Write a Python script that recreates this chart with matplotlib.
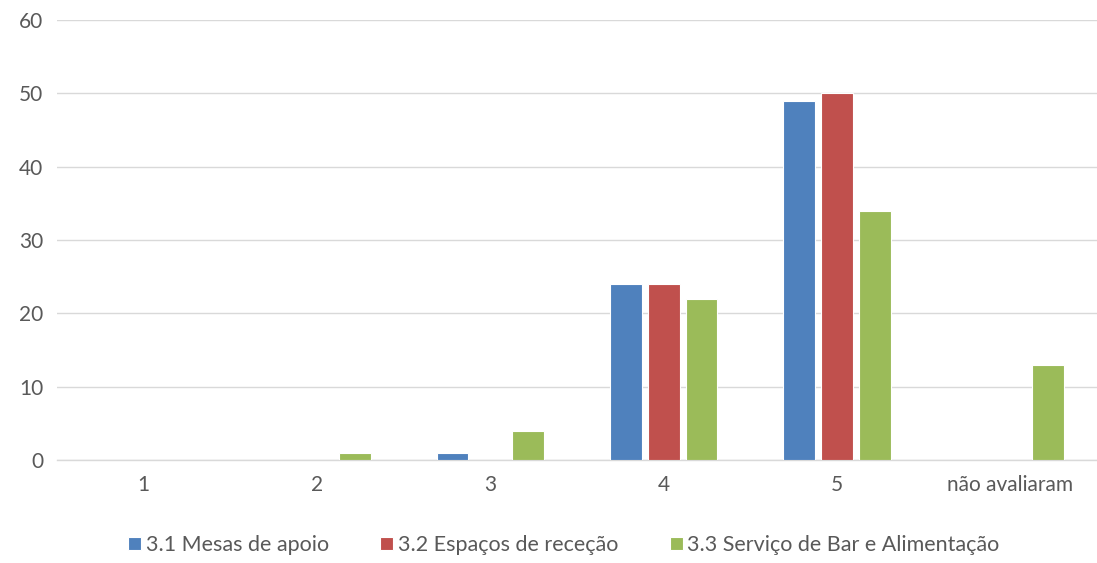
import matplotlib
matplotlib.use("Agg")
import matplotlib.pyplot as plt
import numpy as np

categories = ["1", "2", "3", "4", "5", "não avaliaram"]
series_names = ["3.1 Mesas de apoio", "3.2 Espaços de receção", "3.3 Serviço de Bar e Alimentação"]
mesas = [0, 0, 1, 24, 49, 0]
espacos = [0, 0, 0, 24, 50, 0]
servico = [0, 1, 4, 22, 34, 13]
colors = ["#4F81BD", "#C0504D", "#9BBB59"]
yticks = [0, 10, 20, 30, 40, 50, 60]

plt.rcParams['font.family'] = ['Lato', 'DejaVu Sans']

fig = plt.figure(figsize=(10.97, 5.63), dpi=100)
ax = fig.add_axes([57/1097, 1 - 460/563, 1 - 57/1097, 440/563])

x = np.arange(len(categories))
width = 0.183
offset = 0.219
for i, (vals, name, c) in enumerate(zip([mesas, espacos, servico], series_names, colors)):
    ax.bar(x + (i - 1) * offset, vals, width, color=c, label=name,
           edgecolor="white", linewidth=0.8, zorder=3)

ax.set_xlim(-0.5, len(categories) - 0.5)
ax.set_ylim(0, 60)
ax.set_yticks(yticks)
ax.set_xticks(x)
ax.set_xticklabels(categories)
ax.grid(axis="y", color="#D9D9D9", linewidth=1, zorder=0)
for s in ["top", "right", "left"]:
    ax.spines[s].set_visible(False)
ax.spines["bottom"].set_color("#D9D9D9")
ax.spines["bottom"].set_linewidth(1)
ax.tick_params(axis="both", length=0, labelsize=15, colors="#595959")
ax.tick_params(axis="x", pad=11)
ax.tick_params(axis="y", pad=10)

leg = fig.legend(loc="center", bbox_to_anchor=(0.514, 1 - 545/563), ncol=3, frameon=False,
                 fontsize=15.5, handlelength=0.6, handleheight=0.6, handletextpad=0.2,
                 columnspacing=2.4)
for t in leg.get_texts():
    t.set_color("#595959")

fig.savefig("out.png", dpi=100)
